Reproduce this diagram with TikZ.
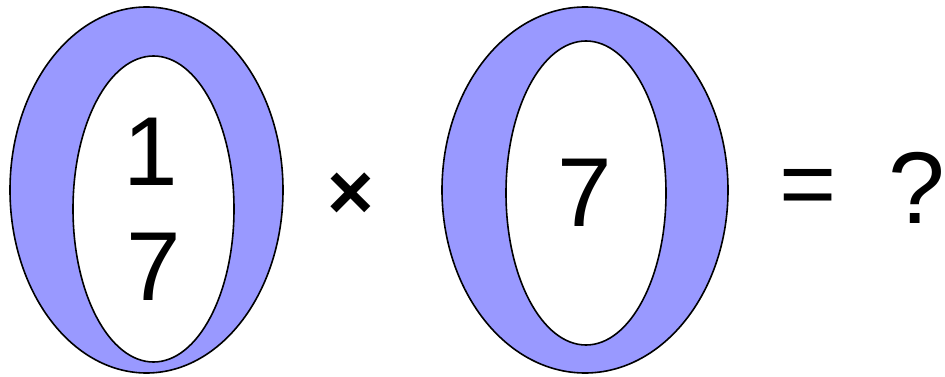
\documentclass[tikz,border=0pt]{standalone}
\usepackage{fontspec}
\setmainfont{Liberation Sans}
\definecolor{ringblue}{HTML}{9999FF}
\begin{document}
\begin{tikzpicture}[x=1pt,y=-1pt,
  ring/.style={draw=black,line width=1.6pt,fill=ringblue},
  hole/.style={draw=black,line width=1.6pt,fill=white},
  big/.style={inner sep=0pt,font=\fontsize{98}{110}\selectfont}]
\useasboundingbox (0,0) rectangle (945,377);
\path[ring] (146.5,190) ellipse [x radius=136.5,y radius=183];
\path[hole] (153.5,209) ellipse [x radius=80.5,y radius=153];
\path[ring] (585,190) ellipse [x radius=143,y radius=183];
\path[hole] (586,193) ellipse [x radius=80,y radius=152];
\node[big] (one) at (151,152) {1};
\node[big] (sevenA) at (154,267) {7};
\node[big] (sevenB) at (585,193) {7};
\node[big,font=\fontsize{80}{90}\selectfont\bfseries] (times) at (351,196) {×};
\node[big] (eq) at (808,193) {=};
\node[big,font=\fontsize{102}{115}\selectfont] (q) at (917,188) {?};
\end{tikzpicture}
\end{document}
